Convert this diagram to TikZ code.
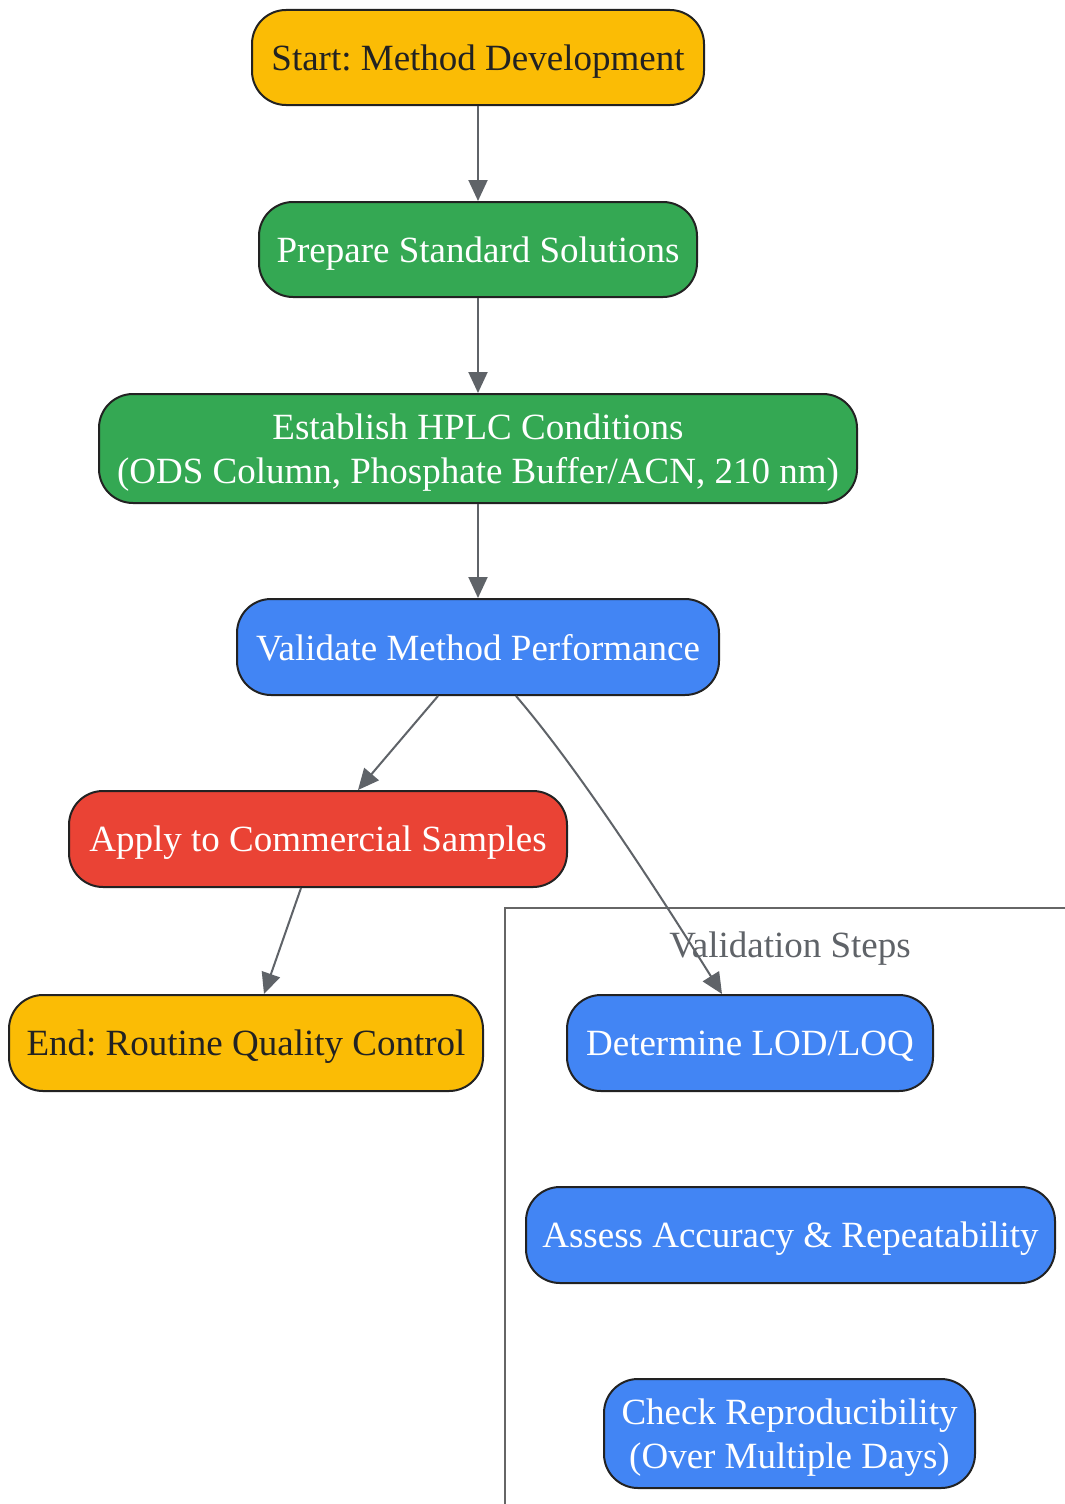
\documentclass[tikz,border=0pt]{standalone}
\usepackage{fontspec}
\setmainfont{Liberation Serif}
\usetikzlibrary{arrows.meta,calc}
\frenchspacing
\definecolor{cyellow}{HTML}{FBBC05}
\definecolor{cgreen}{HTML}{34A853}
\definecolor{cblue}{HTML}{4285F4}
\definecolor{cred}{HTML}{EA4335}
\definecolor{cborder}{HTML}{222222}
\definecolor{cedge}{HTML}{5F6368}
\definecolor{csub}{HTML}{666666}
\tikzset{
  box/.style={draw=cborder, line width=2pt, rounded corners=34pt, align=center, inner sep=0pt,
    font=\fontsize{37}{44}\selectfont\frenchspacing, text depth=0pt},
  ybox/.style={box, fill=cyellow, text=cborder},
  gbox/.style={box, fill=cgreen, text=white},
  bbox/.style={box, fill=cblue, text=white},
  rbox/.style={box, fill=cred, text=white},
  edge/.style={draw=cedge, line width=2pt, -{Triangle[length=21pt,width=19pt]}},
}
\begin{document}
\begin{tikzpicture}[x=1pt,y=-1pt]
\useasboundingbox[fill=white] (0,0) rectangle (1065,1504);
% subgraph
\draw[csub, line width=2pt] (505,1510) -- (505,908) -- (1070,908);
\node[text=cedge, font=\fontsize{37}{44}\selectfont, text depth=0pt] (sublabel) at (790,945) {Validation Steps};
% nodes
\node[ybox, minimum width=452pt, minimum height=95pt] (start) at (478,57.5) {Start: Method Development};
\node[gbox, minimum width=438pt, minimum height=95pt] (prep) at (478,249.5) {Prepare Standard Solutions};
\node[gbox, minimum width=758pt, minimum height=109pt] (est) at (478,448.5) {Establish HPLC Conditions\\(ODS Column, Phosphate Buffer/ACN, 210 nm)};
\node[bbox, minimum width=482pt, minimum height=96pt] (val) at (478,647) {Validate Method Performance};
\node[rbox, minimum width=498pt, minimum height=96pt] (app) at (318,839) {Apply to Commercial Samples};
\node[ybox, minimum width=474pt, minimum height=96pt] (end) at (246,1043) {End: Routine Quality Control};
\node[bbox, minimum width=366pt, minimum height=96pt] (lod) at (750,1043) {Determine LOD/LOQ};
\node[bbox, minimum width=529pt, minimum height=96pt] (acc) at (790.5,1235) {Assess Accuracy \& Repeatability};
\node[bbox, minimum width=371pt, minimum height=109pt] (rep) at (789.5,1433.5) {Check Reproducibility\\(Over Multiple Days)};
% edges
\draw[edge] (start.south) -- (prep.north);
\draw[edge] (prep.south) -- (est.north);
\draw[edge] (est.south) -- (val.north);
\draw[edge] ($(val.south)+(-40,0)$) -- ($(app.north)+(40,0)$);
\draw[edge] ($(app.south)+(-17,0)$) -- ($(end.north)+(18,0)$);
\draw[edge] ($(val.south)+(38,0)$) .. controls (552,738) and (610,815) .. ($(lod.north)+(-28,0)$);
\end{tikzpicture}
\end{document}
